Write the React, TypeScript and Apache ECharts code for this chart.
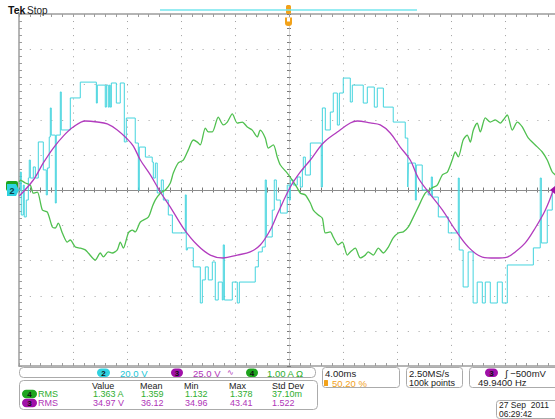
import React, { useEffect, useRef } from "react";
import * as echarts from "echarts";

// ---- Waveform data (time in ms, value in channel units) ----
// CH2 (cyan) inverter output voltage, volts, stepped
const CH2_VOLTS: [number, number][] = [
  [-19.98, 0], [-19.9, 10.2], [-19.83, -14.2], [-19.68, 2.8], [-19.61, -15.3], [-19.46, -5.7],
  [-19.31, 6.8], [-19.24, 17.0], [-19.16, 6.8], [-18.94, 13.1], [-18.79, 6.8], [-18.57, 27.3],
  [-18.2, 11.4], [-17.98, -2.8], [-17.9, 12.5], [-17.76, 30.1], [-17.68, 46.6], [-17.61, 31.2],
  [-17.31, -7.4], [-17.24, 31.2], [-16.94, 55.7], [-16.87, 34.1], [-16.2, 52.3], [-15.46, 61.3],
  [-14.27, 49.4], [-14.2, 59.6], [-13.61, 47.1], [-13.53, 59.6], [-13.39, 47.1], [-13.31, 59.6],
  [-13.24, 47.1], [-13.16, 60.8], [-12.79, 49.4], [-12.5, 60.8], [-12.2, 27.3], [-12.05, 40.9],
  [-11.39, 26.7], [-11.16, 0], [-11.09, 24.4], [-10.64, 18.7], [-10.13, 15.9], [-10.05, 6.8],
  [-9.9, 15.3], [-9.76, -1.7], [-9.46, 5.7], [-9.31, -5.7], [-8.94, -14.2], [-8.64, -24.4],
  [-7.68, -2.8], [-7.61, -34.1], [-7.53, -32.9], [-7.09, -43.7], [-6.57, -64.2], [-6.42, -51.1],
  [-6.2, -43.7], [-5.98, -51.1], [-5.68, -40.9], [-5.46, -62.5], [-5.24, -52.3], [-4.94, -62.5],
  [-4.87, -31.2], [-4.79, -62.5], [-4.2, -52.3], [-3.83, -64.2], [-3.68, -52.3], [-2.5, -43.7],
  [-2.27, -35.2], [-1.98, -32.4], [-1.76, 5.7], [-1.68, -26.7], [-1.24, -11.4], [-1.09, 5.7],
  [-0.94, -5.7], [-0.64, -13.1], [-0.13, 2.8], [0.02, -5.7], [0.1, 5.7], [0.32, 2.8],
  [0.61, 7.4], [0.84, 1.7], [0.99, 11.4], [1.06, 18.7], [1.21, 8.5], [1.58, 26.7],
  [2.39, 1.7], [2.47, 46.6], [2.69, 34.1], [3.06, 44.3], [3.28, 55.1], [3.58, 36.9],
  [3.73, 55.1], [4.02, 63.6], [4.54, 50.0], [4.69, 59.6], [5.5, 49.4], [5.8, 58.5],
  [6.32, 47.1], [6.54, 57.9], [6.99, 47.1], [7.72, 38.6], [8.61, 29.5], [8.8, 1.7],
  [8.84, 15.3], [9.36, -5.7], [9.43, 14.2], [9.87, 0], [10.31, -2.8], [10.54, 7.4],
  [10.62, -4.0], [11.06, -15.3], [11.8, -24.4], [12.54, 6.8], [12.61, -34.1], [12.9, -55.1],
  [13.27, -35.2], [13.64, -64.2], [13.94, -52.3], [14.32, -64.2], [14.54, -52.3], [14.91, -64.2],
  [15.43, -52.3], [15.8, -64.2], [16.17, -42.6], [18.1, -32.9], [18.61, 6.8], [18.69, -30.1],
  [19.13, -11.4], [19.5, 0], [19.73, 5.7], [20, 5.7],
];

// CH3 (magenta) voltage, volts
const CH3_VOLTS: [number, number][] = [
  [-19.98, -4.3], [-18.94, 7.1], [-18.2, 19.2], [-17.46, 29.8], [-16.72, 38.3], [-15.98, 44.7],
  [-15.09, 49.0], [-14.2, 48.3], [-13.46, 46.9], [-12.72, 42.6], [-11.98, 36.2], [-11.53, 31.2],
  [-11.01, 21.3], [-10.27, 10.7], [-9.53, -1.4], [-8.79, -12.1], [-7.83, -27.0], [-6.79, -39.1],
  [-5.83, -46.2], [-4.87, -48.3], [-3.83, -46.2], [-2.87, -44.0], [-2.13, -39.1], [-1.39, -28.4],
  [-0.79, -15.6], [0.1, 2.1], [0.84, 12.8], [1.58, 21.3], [2.54, 33.4], [3.58, 41.2],
  [4.54, 47.6], [5.06, 49.0], [6.01, 47.6], [6.76, 46.2], [7.5, 40.5], [8.24, 30.5],
  [8.98, 21.3], [9.58, 8.5], [10.32, -1.4], [11.36, -14.2], [12.32, -28.4], [13.28, -40.5],
  [14.32, -47.6], [15.28, -48.3], [16.17, -47.6], [16.76, -44.0], [17.5, -37.6], [18.24, -27.0],
  [18.99, -14.2], [19.58, 0],
];

// CH4 (green) current, amps
const CH4_AMPS: [number, number][] = [
  [-19.98, 0.23], [-19.9, 0.28], [-19.53, 0.2], [-19.16, 0.14], [-18.94, -0.09], [-18.64, -0.06],
  [-18.27, -0.57], [-17.9, -0.63], [-17.53, -1.05], [-17.31, -1.08], [-17.09, -0.94], [-16.79, -1.22],
  [-16.42, -1.48], [-16.2, -1.42], [-15.83, -1.62], [-15.46, -1.65], [-15.09, -1.7], [-14.87, -1.79],
  [-14.35, -1.99], [-13.98, -1.79], [-13.75, -1.9], [-13.39, -1.76], [-13.09, -1.79], [-12.72, -1.7],
  [-12.5, -1.48], [-12.27, -1.65], [-11.9, -1.22], [-11.61, -1.14], [-11.39, -1.19], [-11.01, -0.91],
  [-10.42, -0.77], [-10.13, -0.48], [-9.9, -0.28], [-9.53, -0.09], [-9.16, 0], [-8.79, 0.2],
  [-8.57, 0.48], [-8.2, 0.77], [-7.83, 0.85], [-7.46, 1.14], [-7.09, 1.42], [-6.79, 1.36],
  [-6.57, 1.28], [-6.2, 1.76], [-5.98, 1.65], [-5.68, 1.65], [-5.24, 2.07], [-4.87, 1.85],
  [-4.57, 1.93], [-4.2, 2.16], [-3.83, 1.9], [-3.46, 1.93], [-3.09, 1.79], [-2.72, 1.7],
  [-2.35, 1.51], [-2.13, 1.7], [-1.76, 1.48], [-1.53, 1.19], [-1.16, 1.28], [-0.87, 0.94],
  [-0.64, 0.71], [-0.13, 0.48], [0.24, 0.28], [0.61, 0.06], [0.84, -0.09], [1.21, -0.14],
  [1.58, -0.37], [1.8, -0.57], [2.17, -0.71], [2.47, -0.8], [2.69, -1.22], [3.06, -1.19],
  [3.28, -1.34], [3.65, -1.56], [3.95, -1.48], [4.32, -1.85], [4.54, -1.76], [4.91, -1.65],
  [5.28, -1.93], [5.65, -1.85], [5.87, -1.76], [6.24, -1.85], [6.62, -1.65], [6.99, -1.79],
  [7.36, -1.62], [7.72, -1.36], [8.1, -1.22], [8.47, -1.19], [8.84, -1.05], [9.21, -0.77],
  [9.58, -0.48], [10.09, -0.09], [10.61, 0.06], [10.98, 0.14], [11.36, 0.43], [11.73, 0.51],
  [12.09, 0.85], [12.32, 1.08], [12.54, 0.94], [12.9, 1.42], [13.2, 1.56], [13.43, 1.36],
  [13.65, 1.7], [13.94, 1.9], [14.17, 1.65], [14.54, 2.05], [14.91, 1.93], [15.28, 1.99],
  [15.65, 1.9], [15.87, 1.99], [16.17, 2.13], [16.54, 1.7], [16.91, 1.93], [17.28, 1.79],
  [17.72, 1.48], [18.24, 1.28], [18.76, 1.08], [19.13, 0.85], [19.5, 0.51], [19.73, 0.43],
];

// Graticule division lines (ms / CH2 volts)
const X_DIVISIONS = [-16, -12, -8, -4, 0, 4, 8, 12, 16, 20];
const Y_DIVISIONS = [80, 60, 40, 20, 0, -20, -40, -60, -80];

// ---- Readouts ----
const CHANNEL_SCALES = ["20.0 V", "25.0 V", "1.00 A Ω"];
const MEAS_HEADERS = ["Value", "Mean", "Min", "Max", "Std Dev"];
const MEAS_CH4 = ["1.363 A", "1.359", "1.132", "1.378", "37.10m"];
const MEAS_CH3 = ["34.97 V", "36.12", "34.96", "43.41", "1.522"];
const TIMEBASE = ["4.00ms", "50.20 %"];
const ACQ = ["2.50MS/s", "100k points"];
const TRIGGER = ["∫ −500mV", "49.9400 Hz"];
const DATE = ["27 Sep  2011", "06:29:42"];

const FONT = '"Liberation Sans", Arial, sans-serif';
const CYAN = "#44d4de";
const CYAN_T = "#20c6d6";
const MAG = "#b23cbe";
const MAG_T = "#b034b8";
const MAG_B = "#a010a8";
const GRN = "#50c050";
const GRN_T = "#2eae2e";
const GRN_B = "#1ea41e";
const ORANGE = "#f2a21a";
const FRAME = "#9c9c9c";
const BOX = "#ababab";
const DOT = "#a0a0a0";

const txt = (x: number, y: number, text: string, fill: string, size = 9, weight = "normal", align = "left") => ({
  type: "text",
  x,
  y,
  z: 100,
  style: {
    text, fill, font: `${weight} ${size}px ${FONT}`, lineHeight: size,
    textAlign: align, textVerticalAlign: "middle", align, verticalAlign: "middle",
  },
});
const box = (x: number, y: number, w: number, h: number, r: any = 3, fill = "rgba(0,0,0,0)", stroke = BOX, lw = 1) => ({
  type: "rect",
  z: 90,
  shape: { x, y, width: w, height: h, r },
  style: { fill, stroke, lineWidth: lw },
});
const badge = (x: number, y: number, w: number, fill: string, label: string, color = "#111") => [
  box(x, y, w, 8.5, 4.2, fill, "none", 0),
  txt(x + w / 2, y + 4.5, label, color, 8, "bold", "center"),
];

export default function App() {
  const ref = useRef<HTMLDivElement>(null);
  useEffect(() => {
    if (!ref.current) return;
    const chart = echarts.init(ref.current, null, { renderer: "svg" });

    const tickStyle = { color: FRAME, width: 1 };
    const hiddenLabel = { show: false };
    const borderX = (position: string) => ({
      type: "value", min: -20, max: 20, interval: 4, position,
      axisLine: { show: true, onZero: false, lineStyle: { color: FRAME, width: 1.5 } },
      axisTick: { show: true, inside: true, length: 3, lineStyle: tickStyle },
      minorTick: { show: true, splitNumber: 5, length: 3, lineStyle: tickStyle },
      axisLabel: hiddenLabel, splitLine: { show: false },
    });
    const centerX = (inside: boolean) => ({
      type: "value", min: -20, max: 20, interval: 4, position: "bottom",
      axisLine: { show: true, onZero: true, onZeroAxisIndex: 0, lineStyle: { color: "#8a8a8a", width: 1 } },
      axisTick: { show: true, inside, length: 2.5, lineStyle: { color: "#7a7a7a" } },
      minorTick: { show: true, splitNumber: 5, length: 2.5, lineStyle: { color: "#7a7a7a" } },
      axisLabel: hiddenLabel, splitLine: { show: false },
    });
    const centerY = (inside: boolean) => ({
      type: "value", min: -100, max: 100, interval: 20, position: "left",
      axisLine: { show: true, onZero: true, onZeroAxisIndex: 0, lineStyle: { color: "#d4d4d4", width: 1 } },
      axisTick: { show: true, inside, length: 2, lineStyle: { color: "#7a7a7a" } },
      minorTick: { show: true, splitNumber: 5, length: 2, lineStyle: { color: "#7a7a7a" } },
      axisLabel: hiddenLabel, splitLine: { show: false },
    });

    const graphics: any[] = [
      // header
      txt(8, 10, "Tek", "#111", 10.5, "bold"),
      txt(27, 10, "Stop", "#222", 10),
      { type: "line", z: 95, shape: { x1: 160, y1: 10, x2: 417, y2: 10 }, style: { stroke: "#74e6ee", lineWidth: 1.6 } },
      box(286, 5, 5, 9, 1.5, ORANGE, "none", 0),
      box(285, 17.5, 7, 8.5, [0, 0, 3, 3], ORANGE, "none", 0),
      box(287, 17.5, 3, 4, 0, "#ffffff", "none", 0),
      // ground markers
      box(6, 181, 12, 10, 2, GRN_B, "none", 0),
      { type: "polygon", z: 96, shape: { points: [[7, 184], [16, 184], [19, 190], [16, 196], [7, 196]] }, style: { fill: "#2ed2e0" } },
      txt(12, 190.5, "2", "#0c3c44", 9, "bold", "center"),
      { type: "polygon", z: 96, shape: { points: [[555, 186], [550, 190], [555, 194]] }, style: { fill: MAG_B } },
      // channel bar
      box(19.5, 367.5, 296, 10, 4),
      ...badge(97, 368.5, 13, "#30d2e0", "2"),
      txt(120, 373, CHANNEL_SCALES[0], CYAN_T, 9.5),
      ...badge(171, 368.5, 12, MAG_B, "3"),
      txt(193, 373, CHANNEL_SCALES[1], MAG_T, 9.5),
      txt(227, 372, "∿", MAG_T, 8),
      ...badge(246, 368.5, 12, GRN_B, "4"),
      txt(267, 373, CHANNEL_SCALES[2], GRN_T, 9.5),
      // measurements
      box(19.5, 380.5, 298, 29, 4),
      ...MEAS_HEADERS.map((h, i) => txt([92, 140, 184, 229, 272][i], 385.5, h, "#222")),
      ...badge(22, 389.8, 15, GRN_B, "4"),
      txt(38, 394, "RMS", GRN_T),
      ...MEAS_CH4.map((v, i) => txt([93, 141, 185, 230, 272][i], 394, v, GRN_T)),
      ...badge(22, 398.8, 15, MAG_B, "3"),
      txt(38, 403, "RMS", MAG_T),
      ...MEAS_CH3.map((v, i) => txt([93, 141, 185, 230, 272][i], 403, v, MAG_T)),
      // timebase
      box(322.5, 367.5, 77, 20, 3),
      txt(325, 373, TIMEBASE[0], "#222", 9.5),
      box(324, 380, 4, 6, 0.5, ORANGE, "none", 0),
      txt(332, 383, TIMEBASE[1], ORANGE, 9.5),
      // acquisition
      box(406.5, 367.5, 56, 20, 3),
      txt(409, 373, ACQ[0], "#222", 9.5),
      txt(409, 382.5, ACQ[1], "#222", 9),
      // trigger
      box(469.5, 367.5, 92, 20, 3),
      ...badge(485, 368.5, 13, MAG_B, "3"),
      txt(505, 373, TRIGGER[0], "#222", 9.5),
      txt(478, 382.5, TRIGGER[1], "#222", 9.5),
      // date
      box(496.5, 400.5, 65, 18, 3),
      txt(499, 405, DATE[0], "#222", 8.5),
      txt(499, 414, DATE[1], "#222", 8.5),
    ];

    chart.setOption({
      animation: false,
      backgroundColor: "#ffffff",
      grid: { left: 19, top: 14, width: 540, height: 352, containLabel: false, outerBoundsMode: "none" },
      xAxis: [borderX("bottom"), borderX("top"), centerX(true), centerX(false)],
      yAxis: [
        {
          type: "value", min: -100, max: 100, interval: 20, position: "left",
          axisLine: { show: true, onZero: false, lineStyle: { color: FRAME, width: 1.5 } },
          axisTick: { show: true, inside: true, length: 3, lineStyle: tickStyle },
          minorTick: { show: true, splitNumber: 5, length: 3, lineStyle: tickStyle },
          axisLabel: hiddenLabel, splitLine: { show: false },
        },
        { type: "value", min: -125, max: 125, interval: 25, show: false, axisLine: { onZero: false } },
        { type: "value", min: -5, max: 5, interval: 1, show: false, axisLine: { onZero: false } },
        centerY(true),
        centerY(false),
      ],
      series: [
        {
          name: "CH2", type: "line", xAxisIndex: 0, yAxisIndex: 0, data: CH2_VOLTS, step: "end",
          symbol: "none", lineStyle: { color: CYAN, width: 1 }, z: 3,
        },
        {
          name: "CH4", type: "line", xAxisIndex: 0, yAxisIndex: 2, data: CH4_AMPS, smooth: 0.25,
          symbol: "none", lineStyle: { color: GRN, width: 1.3 }, z: 4,
        },
        {
          name: "CH3", type: "line", xAxisIndex: 0, yAxisIndex: 1, data: CH3_VOLTS, smooth: 0.35,
          symbol: "none", lineStyle: { color: MAG, width: 1.3 }, z: 5,
        },
      ],
    });

    // dotted graticule placed through the axes' own scales
    const px = (v: number) => chart.convertToPixel({ xAxisIndex: 0 }, v) as number;
    const py = (v: number) => chart.convertToPixel({ yAxisIndex: 0 }, v) as number;
    const left = px(-20), right = px(20), top = py(100), bottom = py(-100);
    const minorX = (right - left) / 50;
    const minorY = (bottom - top) / 50;
    const grat: any[] = [];
    X_DIVISIONS.forEach((v) => {
      const x = Math.round(px(v)) + 0.5;
      grat.push({
        type: "line", z: 1, silent: true,
        shape: { x1: x, y1: top, x2: x, y2: bottom },
        style: { stroke: DOT, lineWidth: 1, lineDash: [1, minorY - 1] },
      });
    });
    Y_DIVISIONS.forEach((v) => {
      const y = Math.round(py(v)) + 0.5;
      grat.push({
        type: "line", z: 1, silent: true,
        shape: { x1: left, y1: y, x2: right, y2: y },
        style: { stroke: DOT, lineWidth: 1, lineDash: [1, minorX - 1] },
      });
    });

    chart.setOption({ graphic: { elements: [...grat, ...graphics] } });
    return () => chart.dispose();
  }, []);

  return (
    <div
      ref={ref}
      style={{ position: "fixed", left: 0, top: 0, width: 565, height: 419, background: "#fff" }}
    />
  );
}
